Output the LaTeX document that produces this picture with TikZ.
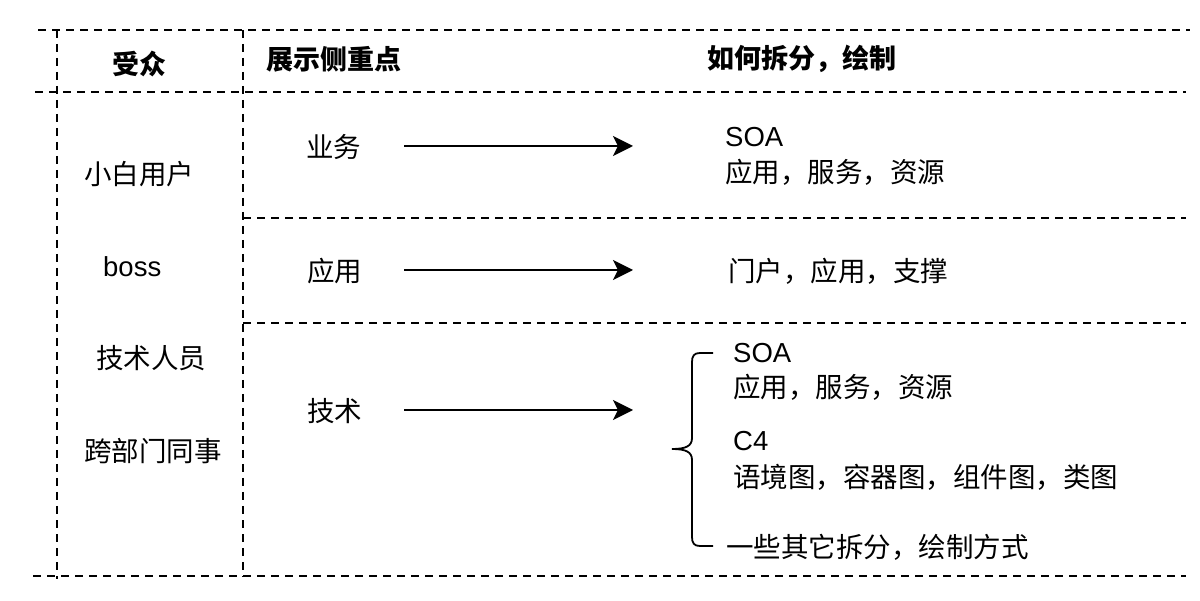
\documentclass[tikz,border=0pt]{standalone}
\usepackage{fontspec}
\setmainfont{Noto Sans CJK SC}
\newfontfamily\latinfont{Liberation Sans}
\usetikzlibrary{arrows.meta}
\tikzset{
  grid/.style={line width=2.4pt, dash pattern=on 8pt off 6pt},
  txt/.style={anchor=west, inner sep=0pt, font=\fontsize{27.5}{32}\selectfont},
  lat/.style={anchor=west, inner sep=0pt, font=\fontsize{27.5}{32}\selectfont\latinfont},
  hdr/.style={anchor=west, inner sep=0pt, font=\fontsize{27}{32}\selectfont\bfseries},
  arr/.style={line width=1.8pt, -{Stealth[length=20pt,width=20pt,inset=5pt]}},
  brace/.style={line width=1.8pt}
}
\begin{document}
\begin{tikzpicture}[x=1pt,y=-1pt]
\useasboundingbox (0,0) rectangle (1200,601);
% grid lines
\draw[grid] (38,30) -- (1190,30);
\draw[grid] (35,92) -- (1186,92);
\draw[grid] (243,218) -- (1186,218);
\draw[grid] (243,323) -- (1186,323);
\draw[grid] (33,576) -- (1186,576);
\draw[grid] (57,30) -- (57,579);
\draw[grid] (243,30) -- (243,577);
% headers
\node[hdr] (h1) at (112,64) {受众};
\node[hdr] (h2) at (266,59) {展示侧重点};
\node[hdr] (h3) at (707,59) {如何拆分，绘制};
% audience
\node[txt] (u1) at (84,174) {小白用户};
\node[lat] (u2) at (103,267) {boss};
\node[txt] (u3) at (96,358) {技术人员};
\node[txt] (u4) at (84,451) {跨部门同事};
% focus
\node[txt] (f1) at (306,147) {业务};
\node[txt] (f2) at (307,271) {应用};
\node[txt] (f3) at (307,411) {技术};
% arrows
\coordinate (a1s) at (404,146); \coordinate (a1e) at (633,146);
\coordinate (a2s) at (404,270); \coordinate (a2e) at (633,270);
\coordinate (a3s) at (404,410); \coordinate (a3e) at (633,410);
\draw[arr] (a1s) -- (a1e);
\draw[arr] (a2s) -- (a2e);
\draw[arr] (a3s) -- (a3e);
% results
\node[lat] (r1a) at (725,137) {SOA};
\node[txt] (r1b) at (725,172) {应用，服务，资源};
\node[txt] (r2) at (728,271) {门户，应用，支撑};
\node[lat] (r3a) at (733,353) {SOA};
\node[txt] (r3b) at (733,387) {应用，服务，资源};
\node[lat] (r3c) at (733,441) {C4};
\node[txt] (r3d) at (733,477) {语境图，容器图，组件图，类图};
\node[txt] (r3e) at (726,547) {一些其它拆分，绘制方式};
% brace
\coordinate (bt) at (713,353);
\coordinate (bm) at (672,449);
\coordinate (bb) at (713,546);
\draw[brace] (bt) -- (700,353) .. controls (694,353) and (692,356) .. (692,362)
  -- (692,438) .. controls (692,446) and (686,449) .. (bm)
  .. controls (686,449) and (692,452) .. (692,460)
  -- (692,537) .. controls (692,543) and (694,546) .. (700,546) -- (bb);
\end{tikzpicture}
\end{document}
